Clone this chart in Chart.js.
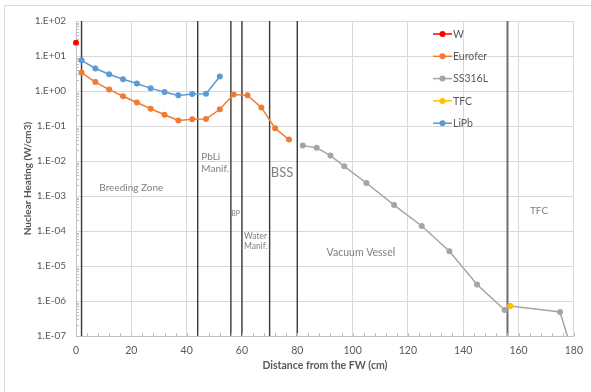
<!DOCTYPE html>
<html>
<head>
<meta charset="utf-8">
<script src="https://cdn.jsdelivr.net/npm/chart.js@4/dist/chart.umd.min.js"></script>
<style>
  html, body { margin: 0; padding: 0; background: #fff; }
  #wrap { position: relative; width: 591px; height: 392px; overflow: hidden; }
  #frame { position: absolute; left: 4px; top: 5px; right: -2px; bottom: -2px;
           border-top: 1px solid #d9d9d9; border-left: 1px solid #d9d9d9; }
  #wrap canvas { position: absolute; left: 0; top: 0; }
</style>
</head>
<body>
<div id="wrap">
  <div id="frame"></div>
  <canvas id="heating-chart" width="591" height="392"></canvas>
</div>
<script>
// DATA
const wX = [0];
const wY = [24];

const eurX = [2, 7, 12, 17, 22, 27, 32, 37, 42, 47, 52, 57, 62, 67, 72, 77];
const eurY = [3.36, 1.8, 1.1, 0.71, 0.47, 0.31, 0.21, 0.143, 0.155, 0.158, 0.30, 0.79, 0.75, 0.34, 0.086, 0.041];

const ssX = [82, 87, 92, 97, 105, 115, 125, 135, 145, 155, 157, 175, 180];
const ssY = [0.0275, 0.024, 0.0143, 0.00706, 0.00235, 5.5e-4, 1.39e-4, 2.63e-5, 2.95e-6, 5.5e-7, 7.2e-7, 4.85e-7, 2.5e-8];

const tfcX = [157];
const tfcY = [7.2e-7];

const lipbX = [2, 7, 12, 17, 22, 27, 32, 37, 42, 47, 52];
const lipbY = [7.5, 4.4, 3.0, 2.16, 1.63, 1.19, 0.94, 0.75, 0.82, 0.84, 2.6];

// zone boundaries (vertical lines)
const zoneEdges = [2, 44, 56, 60, 70, 80, 156];

const xTicks = [0, 20, 40, 60, 80, 100, 120, 140, 160, 180];
const yTicks = [1e-7, 1e-6, 1e-5, 1e-4, 1e-3, 1e-2, 1e-1, 1e0, 1e1, 1e2];

// zone labels: text lines, x, y (data units)
const zoneLabels = [
    { lines: ["Breeding Zone"], x: 20, y: 1.74e-3, size: 10, align: "center" },
    { lines: ["PbLi", "Manif."], x: 45.3, y: 1.3e-2, size: 10, align: "left" },
    { lines: ["BSS"], x: 74.5, y: 4.7e-3, size: 13, align: "center" },
    { lines: ["BP"], x: 57.7, y: 3.2e-4, size: 7, align: "center" },
    { lines: ["Water", "Manif."], x: 60.7, y: 7.2e-5, size: 8.5, align: "left" },
    { lines: ["Vacuum Vessel"], x: 103, y: 2.4e-5, size: 10.5, align: "center" },
    { lines: ["TFC"], x: 167.4, y: 3.9e-4, size: 10, align: "center" },
];

const FONT = "Lato";
const zip = (xs, ys) => xs.map((x, i) => ({ x: x, y: ys[i] }));

function series(label, xs, ys, color, extra) {
    return Object.assign({
        label: label,
        data: zip(xs, ys),
        borderColor: color,
        backgroundColor: color,
        borderWidth: 1.5,
        pointRadius: 3,
        pointBorderWidth: 0,
        pointHoverRadius: 3,
        showLine: true,
        order: 1,
    }, extra || {});
}

const datasets = [
    series("W", wX, wY, "#ff0000", { clip: false }),
    series("Eurofer", eurX, eurY, "#ed7d31"),
    series("SS316L", ssX, ssY, "#a5a5a5"),
    series("TFC", tfcX, tfcY, "#ffc000", { order: 0 }),
    series("LiPb", lipbX, lipbY, "#5b9bd5"),
];

// vertical zone lines
zoneEdges.forEach((x) => {
    datasets.push({
        label: "edge",
        data: [{ x: x, y: 1e-7 }, { x: x, y: 1e2 }],
        borderColor: x === 156 ? "#6e6e6e" : "#3a3a3a",
        borderWidth: x === 156 ? 2 : 1.4,
        pointRadius: 0,
        showLine: true,
        order: 5,
    });
});

const legendItems = ["W", "Eurofer", "SS316L", "TFC", "LiPb"];

// minor ticks, zone text and legend
const extrasPlugin = {
    id: "extras",
    afterDatasetsDraw(chart) {
        const ctx = chart.ctx;
        const xs = chart.scales.x;
        const ys = chart.scales.y;
        const area = chart.chartArea;
        ctx.save();

        // minor ticks
        ctx.strokeStyle = "#bfbfbf";
        ctx.lineWidth = 1;
        ctx.beginPath();
        for (let v = 0; v <= 180; v += 4) {
            const px = Math.round(xs.getPixelForValue(v)) + 0.5;
            ctx.moveTo(px, area.bottom);
            ctx.lineTo(px, area.bottom - 3);
        }
        for (let e = -7; e < 2; e++) {
            for (let m = 2; m <= 9; m++) {
                const py = Math.round(ys.getPixelForValue(m * Math.pow(10, e))) + 0.5;
                ctx.moveTo(area.left, py);
                ctx.lineTo(area.left + 3, py);
            }
        }
        ctx.stroke();

        // zone labels
        ctx.fillStyle = "#808080";
        ctx.textBaseline = "middle";
        zoneLabels.forEach((z) => {
            ctx.font = z.size + "px " + FONT;
            ctx.textAlign = z.align;
            const px = xs.getPixelForValue(z.x);
            const py = ys.getPixelForValue(z.y);
            z.lines.forEach((t, i) => ctx.fillText(t, px, py + i * z.size * 1.15));
        });

        // legend
        ctx.font = "10.5px " + FONT;
        ctx.textAlign = "left";
        legendItems.forEach((name, i) => {
            const ds = chart.data.datasets.find((d) => d.label === name);
            const y = 34 + i * 22.3;
            ctx.strokeStyle = ds.borderColor;
            ctx.lineWidth = 1.5;
            ctx.beginPath();
            ctx.moveTo(433, y);
            ctx.lineTo(452, y);
            ctx.stroke();
            ctx.fillStyle = ds.borderColor;
            ctx.beginPath();
            ctx.arc(442.5, y, 3, 0, Math.PI * 2);
            ctx.fill();
            ctx.fillStyle = "#595959";
            ctx.fillText(name, 453, y + 0.5);
        });
        ctx.restore();
    },
};

function fmtExp(v) {
    const e = Math.round(Math.log10(v));
    return "1.E" + (e < 0 ? "-" : "+") + String(Math.abs(e)).padStart(2, "0");
}

const ctx = document.getElementById("heating-chart").getContext("2d");

const myChart = new Chart(ctx, {
    type: "scatter",
    data: { datasets: datasets },
    options: {
        responsive: false,
        animation: false,
        events: [],
        layout: { padding: { top: 21, right: 15, left: 0, bottom: 0 } },
        plugins: {
            legend: { display: false },
            tooltip: { enabled: false },
        },
        scales: {
            x: {
                type: "linear",
                min: 0,
                max: 180,
                afterBuildTicks: (axis) => { axis.ticks = xTicks.map((v) => ({ value: v })); },
                afterFit: (scale) => { scale.height = 56; },
                grid: { color: "#d9d9d9", drawTicks: false },
                border: { color: "#bfbfbf" },
                ticks: { color: "#595959", font: { family: FONT, size: 10.5 }, padding: 8, maxRotation: 0 },
                title: {
                    display: true,
                    text: "Distance from the FW (cm)",
                    color: "#595959",
                    font: { family: FONT, size: 10.5, weight: "bold" },
                    padding: { top: 0, bottom: 20 },
                },
            },
            y: {
                type: "logarithmic",
                min: 1e-7,
                max: 1e2,
                afterBuildTicks: (axis) => { axis.ticks = yTicks.map((v) => ({ value: v })); },
                afterFit: (scale) => { scale.width = 76; },
                grid: { color: "#d9d9d9", drawTicks: false },
                border: { color: "#bfbfbf" },
                ticks: { color: "#595959", font: { family: FONT, size: 10 }, padding: 10, callback: (v) => fmtExp(v) },
                title: {
                    display: true,
                    text: "Nuclear Heating (W/cm3)",
                    color: "#595959",
                    font: { family: FONT, size: 10, weight: "bold" },
                    padding: { top: 22, bottom: 0 },
                },
            },
        },
    },
    plugins: [extrasPlugin],
});
</script>
</body>
</html>
